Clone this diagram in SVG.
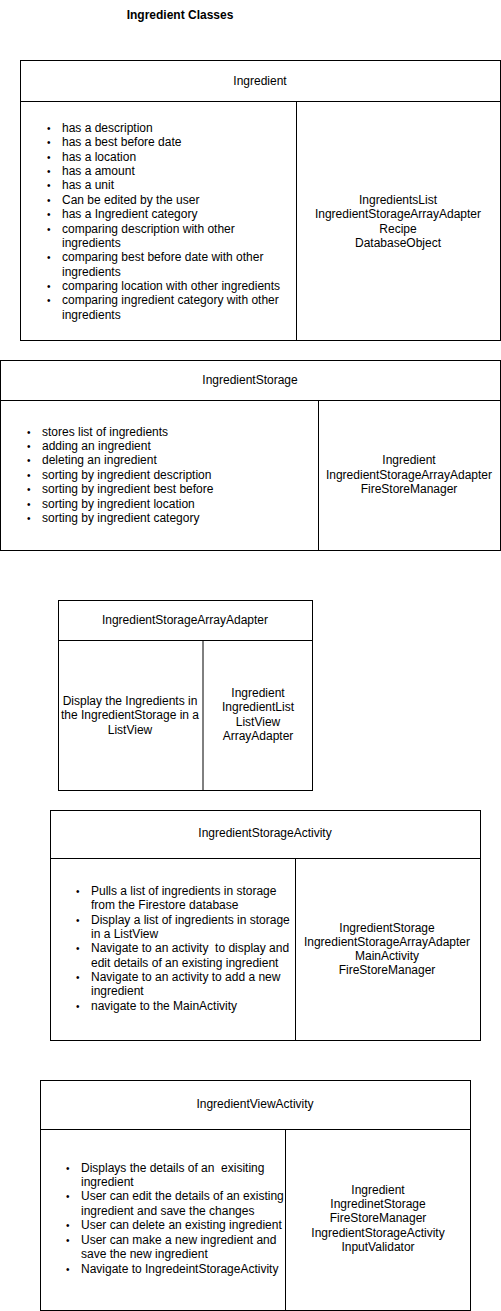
<svg xmlns="http://www.w3.org/2000/svg" width="501" height="1311" viewBox="0 0 501 1311">
<style>
text{font-family:"Liberation Sans",Arial,sans-serif;font-size:12px;fill:#000;white-space:pre}
.t{font-weight:bold}
.c{text-anchor:middle}
.b{font-size:10px}
rect,line{stroke:#000;stroke-width:1;fill:#fff}
</style>
<rect x="0" y="0" width="501" height="1311" style="stroke:none"/>
<text class="t c" x="180" y="19">Ingredient Classes</text>

<g id="ingredient">
<rect x="20.5" y="60.5" width="480" height="280"/>
<line x1="20.5" y1="101.5" x2="500.5" y2="101.5"/>
<line x1="296.5" y1="101.5" x2="296.5" y2="340.5"/>
<text class="c" x="260" y="85">Ingredient</text>
<g>
<text class="b" x="47" y="132">•</text><text x="62" y="132">has a description</text>
<text class="b" x="47" y="146">•</text><text x="62" y="146">has a best before date</text>
<text class="b" x="47" y="161">•</text><text x="62" y="161">has a location</text>
<text class="b" x="47" y="175">•</text><text x="62" y="175">has a amount</text>
<text class="b" x="47" y="189">•</text><text x="62" y="189">has a unit</text>
<text class="b" x="47" y="204">•</text><text x="62" y="204">Can be edited by the user</text>
<text class="b" x="47" y="218">•</text><text x="62" y="218">has a Ingredient category</text>
<text class="b" x="47" y="233">•</text><text x="62" y="233">comparing description with other</text>
<text x="62" y="247">ingredients</text>
<text class="b" x="47" y="261">•</text><text x="62" y="261">comparing best before date with other</text>
<text x="62" y="276">ingredients</text>
<text class="b" x="47" y="290">•</text><text x="62" y="290">comparing location with other ingredients</text>
<text class="b" x="47" y="304">•</text><text x="62" y="304">comparing ingredient category with other</text>
<text x="62" y="319">ingredients</text>
</g>
<text class="c" x="398" y="204">IngredientsList</text>
<text class="c" x="398" y="218">IngredientStorageArrayAdapter</text>
<text class="c" x="398" y="233">Recipe</text>
<text class="c" x="398" y="247">DatabaseObject</text>
</g>

<g id="ingredientStorage">
<rect x="0.5" y="360.5" width="500" height="190"/>
<line x1="0.5" y1="400.5" x2="500.5" y2="400.5"/>
<line x1="318.5" y1="400.5" x2="318.5" y2="550.5"/>
<text class="c" x="250" y="384">IngredientStorage</text>
<text class="b" x="27" y="436">•</text><text x="42" y="436">stores list of ingredients</text>
<text class="b" x="27" y="450">•</text><text x="42" y="450">adding an ingredient</text>
<text class="b" x="27" y="464">•</text><text x="42" y="464">deleting an ingredient</text>
<text class="b" x="27" y="479">•</text><text x="42" y="479">sorting by ingredient description</text>
<text class="b" x="27" y="493">•</text><text x="42" y="493">sorting by ingredient best before</text>
<text class="b" x="27" y="508">•</text><text x="42" y="508">sorting by ingredient location</text>
<text class="b" x="27" y="522">•</text><text x="42" y="522">sorting by ingredient category</text>
<text class="c" x="409" y="464">Ingredient</text>
<text class="c" x="409" y="479">IngredientStorageArrayAdapter</text>
<text class="c" x="409" y="493">FireStoreManager</text>
</g>

<g id="ingredientStorageArrayAdapter">
<rect x="58.5" y="600.5" width="254" height="190"/>
<line x1="58.5" y1="640.5" x2="312.5" y2="640.5"/>
<line x1="203" y1="640.5" x2="203" y2="790.5"/>
<text class="c" x="185" y="624">IngredientStorageArrayAdapter</text>
<text class="c" x="130" y="705">Display the Ingredients in</text>
<text class="c" x="130" y="719">the IngredientStorage in a</text>
<text class="c" x="130" y="734">ListView</text>
<text class="c" x="258" y="697">Ingredient</text>
<text class="c" x="258" y="711">IngredientList</text>
<text class="c" x="258" y="726">ListView</text>
<text class="c" x="258" y="740">ArrayAdapter</text>
</g>

<g id="ingredientStorageActivity">
<rect x="50.5" y="810.5" width="430" height="230"/>
<line x1="50.5" y1="858.5" x2="480.5" y2="858.5"/>
<line x1="295.5" y1="858.5" x2="295.5" y2="1040.5"/>
<text class="c" x="265" y="837">IngredientStorageActivity</text>
<text class="b" x="76" y="895">•</text><text x="91" y="895">Pulls a list of ingredients in storage</text>
<text x="91" y="909">from the Firestore database</text>
<text class="b" x="76" y="924">•</text><text x="91" y="924">Display a list of ingredients in storage</text>
<text x="91" y="938">in a ListView</text>
<text class="b" x="76" y="952">•</text><text x="91" y="952">Navigate to an activity  to display and</text>
<text x="91" y="967">edit details of an existing ingredient</text>
<text class="b" x="76" y="981">•</text><text x="91" y="981">Navigate to an activity to add a new</text>
<text x="91" y="995">ingredient</text>
<text class="b" x="76" y="1010">•</text><text x="91" y="1010">navigate to the MainActivity</text>
<text class="c" x="387" y="932">IngredientStorage</text>
<text class="c" x="387" y="946">IngredientStorageArrayAdapter</text>
<text class="c" x="387" y="960">MainActivity</text>
<text class="c" x="387" y="974">FireStoreManager</text>
</g>

<g id="ingredientViewActivity">
<rect x="40.5" y="1080.5" width="430" height="230"/>
<line x1="40.5" y1="1129.5" x2="470.5" y2="1129.5"/>
<line x1="285.5" y1="1129.5" x2="285.5" y2="1310.5"/>
<text class="c" x="255" y="1108">IngredientViewActivity</text>
<text class="b" x="66" y="1172">•</text><text x="81" y="1172">Displays the details of an  exisiting</text>
<text x="81" y="1186">ingredient</text>
<text class="b" x="66" y="1200">•</text><text x="81" y="1200">User can edit the details of an existing</text>
<text x="81" y="1215">ingredient and save the changes</text>
<text class="b" x="66" y="1229">•</text><text x="81" y="1229">User can delete an existing ingredient</text>
<text class="b" x="66" y="1244">•</text><text x="81" y="1244">User can make a new ingredient and</text>
<text x="81" y="1258">save the new ingredient</text>
<text class="b" x="66" y="1273">•</text><text x="81" y="1273">Navigate to IngredeintStorageActivity</text>
<text class="c" x="378" y="1194">Ingredient</text>
<text class="c" x="378" y="1208">IngredinetStorage</text>
<text class="c" x="378" y="1222">FireStoreManager</text>
<text class="c" x="378" y="1237">IngredientStorageActivity</text>
<text class="c" x="378" y="1251">InputValidator</text>
</g>

<g id="connectors"></g>
</svg>
